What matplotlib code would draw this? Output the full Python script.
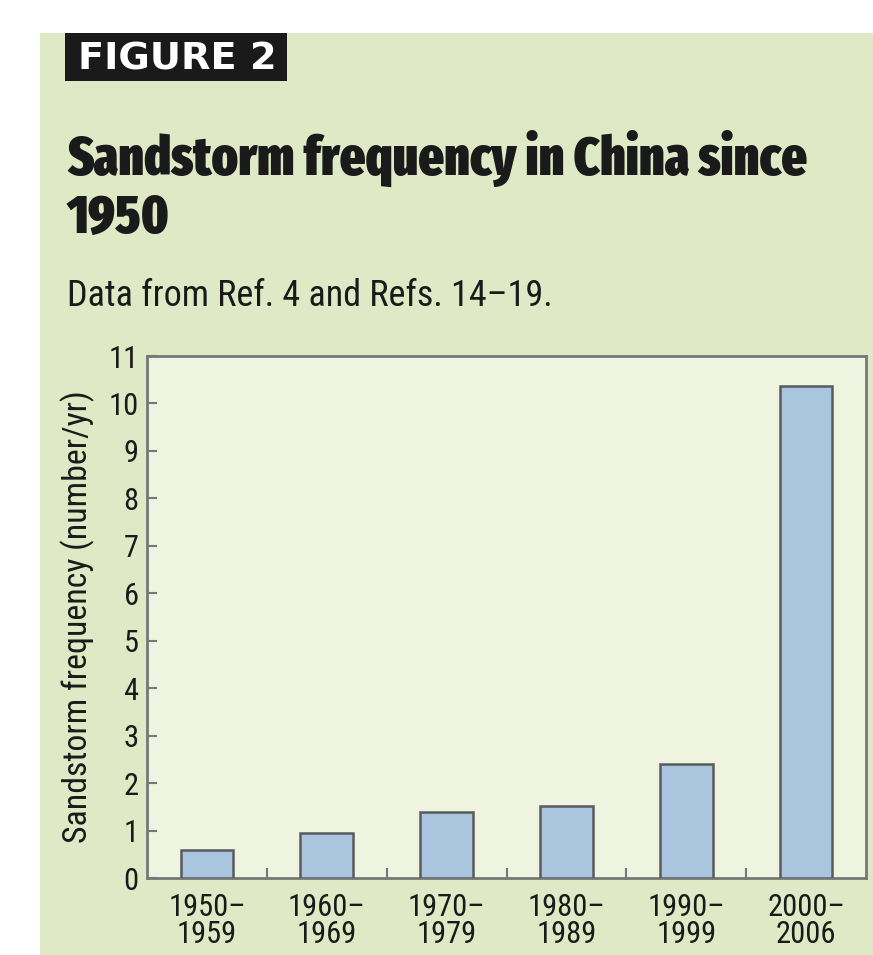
import matplotlib
matplotlib.use("Agg")
import matplotlib.pyplot as plt
from matplotlib.patches import Rectangle
from matplotlib.ticker import FixedLocator

categories = ["1950–\n1959", "1960–\n1969", "1970–\n1979", "1980–\n1989", "1990–\n1999", "2000–\n2006"]
frequency = [0.6, 0.95, 1.4, 1.52, 2.4, 10.37]
y_ticks = list(range(0, 12))

W, H = 873, 955
BODY = ["Roboto Condensed", "DejaVu Sans"]
HEAD = ["Fira Sans Extra Condensed", "Roboto Condensed", "DejaVu Sans"]
panel_color = "#dfe9c5"
plot_bg = "#eff4e0"
bar_color = "#aac6df"
edge_color = "#5a5a5a"
spine_color = "#777777"
text_color = "#1a1a1a"

fig = plt.figure(figsize=(W / 100, H / 100), dpi=100)
fig.patch.set_facecolor("white")

def px(x, y):
    return x / W, 1 - y / H

# green panel
fig.patches.append(Rectangle(px(40, 955), (873 - 40) / W, (955 - 33) / H,
                             transform=fig.transFigure, facecolor=panel_color,
                             edgecolor="none", zorder=-2))
# black label box
fig.patches.append(Rectangle(px(65, 81), (287 - 65) / W, (81 - 33) / H,
                             transform=fig.transFigure, facecolor="#1a1a1a",
                             edgecolor="none", zorder=-1))

renderer = fig.canvas.get_renderer()

def text_width(s, size, **kw):
    t = fig.text(0, 0, s, fontsize=size, **kw)
    w = t.get_window_extent(renderer=renderer).width
    t.remove()
    return w

fs = 20 * 198 / text_width("FIGURE 2", 20, fontweight="heavy", family="DejaVu Sans")
fig.text(*px(177, 70), "FIGURE 2", color="white", fontsize=fs, fontweight="heavy",
         family="DejaVu Sans", ha="center", va="baseline")

fs = 36 * 741 / text_width("Sandstorm frequency in China since", 36, fontweight=900, family=HEAD)
fig.text(*px(67, 130), "Sandstorm frequency in China since\n1950", color=text_color,
         fontsize=fs, fontweight=900, family=HEAD, ha="left", va="top", linespacing=1.1)

fs = 20 * 486 / text_width("Data from Ref. 4 and Refs. 14–19.", 20, family=BODY)
fig.text(*px(67, 306), "Data from Ref. 4 and Refs. 14–19.", color=text_color,
         fontsize=fs, family=BODY, ha="left", va="baseline")

ax = fig.add_axes([147 / W, 1 - 878 / H, (866 - 147) / W, (878 - 356) / H])
ax.set_facecolor(plot_bg)
x = list(range(len(categories)))
ax.bar(x, frequency, width=0.44, color=bar_color, edgecolor=edge_color, linewidth=1.8, zorder=3)
ax.set_xlim(-0.5, len(categories) - 0.5)
ax.set_ylim(0, 11)
ax.set_yticks(y_ticks)
ax.set_yticklabels([str(v) for v in y_ticks], family=BODY, fontsize=22, color=text_color)
ax.set_xticks(x)
ax.set_xticklabels(categories, family=BODY, fontsize=22, color=text_color, linespacing=0.92)
ax.tick_params(axis="x", which="major", length=0, pad=11)
ax.xaxis.set_minor_locator(FixedLocator([i + 0.5 for i in range(len(categories) - 1)]))
ax.tick_params(axis="x", which="minor", direction="in", length=7, width=1.5, color=spine_color)
ax.tick_params(axis="y", direction="in", length=7, width=1.5, color=spine_color, pad=6)
for s in ax.spines.values():
    s.set_color(spine_color)
    s.set_linewidth(2)
fs = 20 * 450 / text_width("Sandstorm frequency (number/yr)", 20, family=BODY)
ax.set_ylabel("Sandstorm frequency (number/yr)", family=BODY, fontsize=fs, color=text_color,
              labelpad=10)

fig.savefig("out.png", dpi=100, facecolor=fig.get_facecolor())
